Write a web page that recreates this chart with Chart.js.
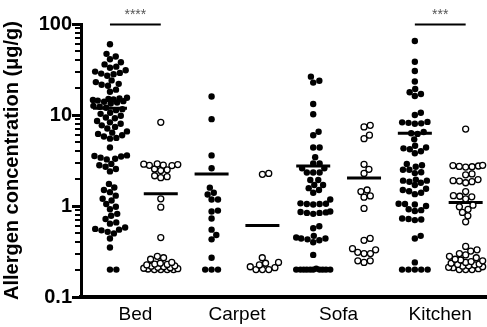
<!DOCTYPE html>
<html>
<head>
<meta charset="utf-8">
<script src="https://cdn.jsdelivr.net/npm/chart.js@4.4.1/dist/chart.umd.min.js"></script>
<style>
  html, body { margin: 0; padding: 0; background: #fff; }
  #wrap { width: 487px; height: 327px; position: relative; }
</style>
</head>
<body>
<div id="wrap"><canvas id="grafico"></canvas></div>
<script>
// Categorias e valores (µg/g)
const categories = ['Bed', 'Carpet', 'Sofa', 'Kitchen'];
const yTickLabels = ['0.1', '1', '10', '100'];
const yMajorTicks = [0.1, 1, 10, 100];
const yMinorTicks = [0.2, 0.3, 0.4, 0.5, 0.6, 0.7, 0.8, 0.9,
  2, 3, 4, 5, 6, 7, 8, 9, 20, 30, 40, 50, 60, 70, 80, 90];

const bedFilled = [60, 47, 44, 41, 38, 36, 34, 33, 31, 30, 29, 28.5, 28, 27,
  24, 23, 22, 21.5, 21, 19, 18, 15.5, 15.2, 15, 14.8, 14.6, 14.4, 14.2, 14, 13.7, 13.4,
  12.6, 12.3, 12, 11.6, 11.3, 10.6, 10.3, 9.8, 9.4, 9.2, 8.6, 8.3, 8, 7.7, 7.4, 7.1,
  6.6, 6.4, 6.2, 6.0, 5.8, 5.6, 5.5, 4.4, 3.6, 3.55, 3.5, 3.4, 3.3, 3.25,
  2.9, 2.8, 2.7, 2.55, 2.4, 1.75, 1.6, 1.5, 1.42, 1.3, 1.2, 1.15, 1.05, 0.98, 0.92,
  0.82, 0.78, 0.72, 0.66, 0.64, 0.58, 0.56, 0.55, 0.54, 0.52, 0.5, 0.44, 0.35, 0.2, 0.2];
const bedOpen = [8.3, 2.9, 2.88, 2.85, 2.82, 2.8, 2.78, 2.55, 2.5, 2.45, 2.15, 2.1, 2.05,
  1.2, 0.97, 0.45, 0.28, 0.27, 0.26, 0.24, 0.235, 0.23, 0.228, 0.225, 0.22, 0.218,
  0.215, 0.212, 0.21, 0.207, 0.205, 0.203, 0.2, 0.2, 0.2, 0.2];
const carpetFilled = [16, 9, 3.6, 2.6, 1.59, 1.4, 1.34, 1.18, 1.18, 0.89, 0.87, 0.73,
  0.55, 0.48, 0.43, 0.27, 0.2, 0.2, 0.2];
const carpetOpen = [2.28, 2.23, 0.27, 0.24, 0.235, 0.225, 0.215, 0.21, 0.2, 0.2, 0.2];
const sofaFilled = [26.4, 23.8, 22.7, 13.2, 10.2, 6.55, 6.0, 4.4, 4.4, 3.43, 2.94, 2.94,
  2.6, 2.6, 2.33, 2.33, 2.33, 1.93, 1.93, 1.7, 1.7, 1.57, 1.5, 1.4, 1.18, 1.07, 1.05,
  1.05, 1.04, 1.06, 0.87, 0.85, 0.84, 0.82, 0.84, 0.86, 0.6, 0.57, 0.47, 0.45, 0.44,
  0.44, 0.43, 0.42, 0.4, 0.29, 0.205, 0.2, 0.2, 0.2, 0.2, 0.2, 0.2, 0.2, 0.2, 0.2, 0.2];
const sofaOpen = [7.7, 7.4, 6.0, 5.5, 2.87, 2.53, 2.28, 1.5, 1.44, 1.29, 1.25, 0.94,
  0.44, 0.42, 0.34, 0.33, 0.31, 0.30, 0.30, 0.25, 0.25, 0.24];
const kitchenFilled = [65, 38.5, 30.5, 23.3, 19.3, 17.8, 17, 16.2, 10.6, 10, 8.4, 8.2,
  8.0, 8.1, 8.3, 6.5, 6.3, 6.2, 5.4, 4.6, 4.4, 4.2, 4.0, 3.8, 4.3, 2.9, 2.8, 2.7, 2.5,
  2.35, 2.3, 2.5, 1.95, 1.9, 1.85, 1.8, 1.9, 1.7, 1.55, 1.35, 1.45, 1.4, 1.5, 1.05,
  1.06, 1.04, 1.0, 0.92, 0.9, 0.88, 0.73, 0.7, 0.72, 0.71, 0.47, 0.44, 0.24,
  0.2, 0.2, 0.2, 0.2, 0.2];
const kitchenOpen = [7.0, 2.8, 2.78, 2.75, 2.72, 2.7, 2.68, 2.25, 2.2, 1.95, 1.9, 1.88,
  1.85, 1.8, 1.44, 1.3, 1.28, 1.26, 1.2, 1.02, 0.98, 0.92, 0.85, 0.78, 0.67, 0.36, 0.33,
  0.32, 0.3, 0.29, 0.28, 0.27, 0.26, 0.255, 0.25, 0.245, 0.24, 0.235, 0.23, 0.228,
  0.225, 0.22, 0.218, 0.215, 0.212, 0.21, 0.205, 0.2, 0.2, 0.2];
// Medianas (barra horizontal) na ordem dos grupos
const medians = [11.9, 1.36, 2.25, 0.61, 2.75, 2.03, 6.3, 1.09];
// Significância entre pares de grupos
const brackets = [{ from: 0, to: 1, label: '****' }, { from: 6, to: 7, label: '***' }];

const FONT = "'Liberation Sans', Arial, sans-serif";

// Beeswarm: espalha os pontos na horizontal para não se sobreporem
const PX_X = 50.8, PX_DEC = 91, D = 6.4, MAXW = 17;
function swarm(values, centre) {
  const placed = [];
  const pts = [];
  values.slice().sort((a, b) => a - b).forEach(v => {
    const y = Math.log10(v) * PX_DEC;
    const near = placed.filter(p => Math.abs(p.y - y) < D);
    const cands = [0];
    near.forEach(p => {
      const dx = Math.sqrt(D * D - (p.y - y) ** 2);
      cands.push(p.x + dx, p.x - dx);
    });
    const ok = cands.filter(x => Math.abs(x) <= MAXW + 0.01 &&
      near.every(p => Math.hypot(p.x - x, p.y - y) >= D - 0.01));
    let x = 0;
    if (ok.length) {
      x = ok.reduce((a, b) => Math.abs(b) < Math.abs(a) ? b : a);
    } else {
      let best = -Infinity;
      for (let t = -MAXW; t <= MAXW; t += 0.5) {
        const m = Math.min(...near.map(p => Math.hypot(p.x - t, p.y - y)));
        if (m > best) { best = m; x = t; }
      }
    }
    placed.push({ x, y });
    pts.push({ x: centre + x / PX_X, y: v });
  });
  return pts;
}

const groups = [bedFilled, bedOpen, carpetFilled, carpetOpen, sofaFilled, sofaOpen, kitchenFilled, kitchenOpen];

const datasets = groups.map((vals, i) => {
  const filled = i % 2 === 0;
  return {
    data: swarm(vals, i),
    pointRadius: filled ? 3.2 : 3,
    pointBackgroundColor: filled ? '#000' : '#fff',
    pointBorderColor: '#000',
    pointBorderWidth: filled ? 0 : 1.3,
    pointHoverRadius: 3
  };
});

datasets.push({
  data: medians.map((m, i) => ({ x: i, y: m })),
  pointStyle: 'line',
  pointRadius: 17,
  pointHoverRadius: 17,
  pointBorderColor: '#000',
  pointBorderWidth: 3,
  clip: false
});

// Marcas do eixo Y (maiores e menores) e barras de significância
const extrasPlugin = {
  id: 'extras',
  afterDraw(chart) {
    const { ctx, chartArea, scales: { x, y } } = chart;
    const left = chartArea.left;
    ctx.save();
    ctx.strokeStyle = '#000';
    ctx.lineWidth = 2;
    yMinorTicks.forEach(v => {
      const py = Math.round(y.getPixelForValue(v));
      ctx.beginPath();
      ctx.moveTo(left - 6, py);
      ctx.lineTo(left, py);
      ctx.stroke();
    });
    ctx.lineWidth = 3;
    yMajorTicks.forEach(v => {
      const py = Math.round(y.getPixelForValue(v)) + 0.5;
      ctx.beginPath();
      ctx.moveTo(left - 9, py);
      ctx.lineTo(left, py);
      ctx.stroke();
    });
    brackets.forEach(b => {
      const x1 = x.getPixelForValue(b.from), x2 = x.getPixelForValue(b.to);
      const yy = y.getPixelForValue(100) + 0.5;
      ctx.lineWidth = 2;
      ctx.beginPath();
      ctx.moveTo(x1, yy);
      ctx.lineTo(x2, yy);
      ctx.stroke();
      ctx.fillStyle = '#555';
      ctx.font = '14px ' + FONT;
      ctx.textAlign = 'center';
      ctx.textBaseline = 'bottom';
      ctx.fillText(b.label, (x1 + x2) / 2, yy - 2);
    });
    ctx.restore();
  }
};

const ctx = document.getElementById('grafico').getContext('2d');
new Chart(ctx, {
  type: 'scatter',
  data: { datasets },
  plugins: [extrasPlugin],
  options: {
    responsive: true,
    maintainAspectRatio: false,
    animation: false,
    layout: { autoPadding: false, padding: { top: 24, right: 0, left: 0, bottom: 0 } },
    plugins: { legend: { display: false }, tooltip: { enabled: false } },
    scales: {
      x: {
        type: 'linear',
        min: -0.57,
        max: 7.42,
        afterFit(scale) { scale.height = 30; scale.paddingLeft = 0; scale.paddingRight = 0; },
        afterBuildTicks(scale) {
          scale.ticks = [0.5, 2.5, 4.5, 6.5].map(v => ({ value: v }));
        },
        ticks: {
          autoSkip: false,
          source: 'data',
          maxRotation: 0,
          padding: 6,
          color: '#000',
          font: { family: FONT, size: 19 },
          callback: (v, i) => categories[i]
        },
        grid: { display: false, drawTicks: false },
        border: { display: true, color: '#000', width: 4 }
      },
      y: {
        type: 'logarithmic',
        min: 0.1,
        max: 100,
        afterFit(scale) { scale.width = 81; scale.paddingTop = 0; scale.paddingBottom = 0; },
        afterBuildTicks(scale) {
          scale.ticks = yMajorTicks.map(v => ({ value: v, major: true }));
        },
        ticks: {
          autoSkip: false,
          source: 'data',
          padding: 9,
          color: '#000',
          font: { family: FONT, size: 20, weight: 'bold' },
          callback: (v, i) => yTickLabels[i]
        },
        grid: { drawOnChartArea: false, drawTicks: false },
        border: { display: true, color: '#000', width: 3 },
        title: {
          display: true,
          text: 'Allergen concentration (μg/g)',
          color: '#000',
          font: { family: FONT, size: 20, weight: 'bold' },
          padding: { top: 0, bottom: 0 }
        }
      }
    }
  }
});
</script>
</body>
</html>
